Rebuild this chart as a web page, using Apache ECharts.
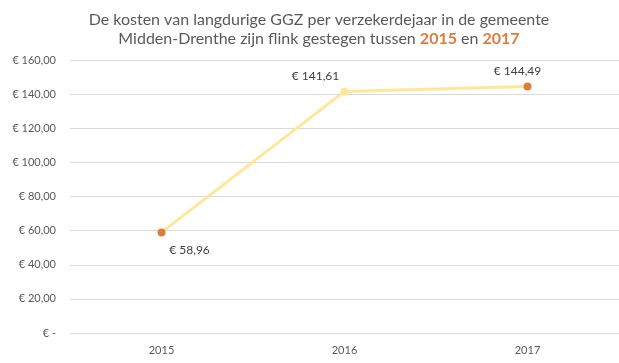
<!DOCTYPE html>
<html><head><meta charset="utf-8">
<script src="https://cdn.jsdelivr.net/npm/echarts@6/dist/echarts.min.js"></script>
<style>html,body{margin:0;padding:0;background:#fff}#c{width:619px;height:363px}</style>
</head><body><div id="c"></div>
<script>
const categories = ['2015', '2016', '2017'];
const values = [58.96, 141.61, 144.49];
const yTicks = [0, 20, 40, 60, 80, 100, 120, 140, 160];

const orange = '#E07B3F';
const yellow = '#FFE699';
const fmt = v => v === 0 ? '€ -' : '€ ' + v.toFixed(2).replace('.', ',');

const chart = echarts.init(document.getElementById('c'));
chart.setOption({
  animation: false,
  title: {
    text: 'De kosten van langdurige GGZ per verzekerdejaar in de gemeente\nMidden-Drenthe zijn flink gestegen tussen {o|2015} en {o|2017}',
    left: 314, top: 5, textAlign: 'center',
    textStyle: {
      fontFamily: 'Lato', fontSize: 16, fontWeight: 'normal', color: '#595959', lineHeight: 19, align: 'center',
      rich: { o: { fontFamily: 'Lato', fontSize: 16, fontWeight: 'bold', color: orange, lineHeight: 19 } }
    }
  },
  grid: { left: 70, right: -1, top: 60, bottom: 30 },
  xAxis: {
    type: 'category', data: categories, boundaryGap: true,
    axisLine: { show: false }, axisTick: { show: false },
    axisLabel: { color: '#595959', fontFamily: 'Lato', fontSize: 11, margin: 12 }
  },
  yAxis: {
    type: 'value', min: yTicks[0], max: yTicks[yTicks.length - 1], interval: 20,
    axisLine: { show: false }, axisTick: { show: false },
    splitLine: { lineStyle: { color: '#D9D9D9', width: 1 } },
    axisLabel: { color: '#595959', fontFamily: 'Lato', fontSize: 11, margin: 14, formatter: fmt }
  },
  series: [{
    type: 'line', data: values.map((v, i) => ({
      value: v,
      itemStyle: { color: i === 1 ? yellow : orange },
      label: i === 0 ? { position: 'bottom', offset: [28, 3] } : (i === 1 ? { position: 'top', offset: [-29, 0] } : { position: 'top', offset: [-10, 0] })
    })),
    symbol: 'circle', symbolSize: 8,
    lineStyle: { color: yellow, width: 3 },
    label: { show: true, color: '#404040', fontFamily: 'Lato', fontSize: 12, formatter: p => fmt(p.value) }
  }]
});
</script></body></html>
